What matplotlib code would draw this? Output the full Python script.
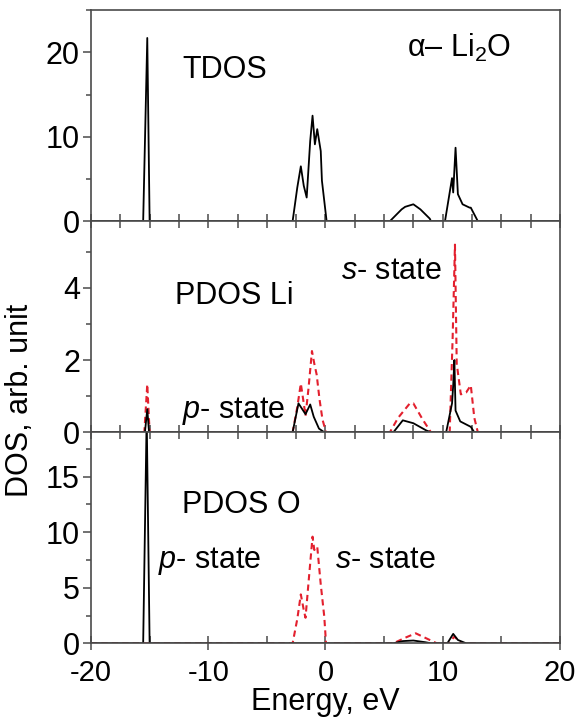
import matplotlib
matplotlib.use("Agg")
import matplotlib.pyplot as plt
from matplotlib.ticker import MultipleLocator

plt.rcParams['font.family'] = ['Liberation Sans', 'DejaVu Sans']
plt.rcParams['mathtext.fontset'] = 'custom'
plt.rcParams['mathtext.rm'] = 'Liberation Sans'
plt.rcParams['mathtext.it'] = 'Liberation Sans:italic'
plt.rcParams['axes.unicode_minus'] = False

# TDOS (black)
tdos_e = [-20, -15.55, -15.2, -15.0, -2.8, -2.4, -2.1, -1.85, -1.6, -1.3, -1.1, -0.9, -0.7, -0.4, -0.3, 0.1,
          5.5, 6.0, 6.5, 6.8, 7.5, 8.1, 8.9, 9.0, 10.2, 10.8, 10.9, 11.1, 11.3, 11.7, 12.3, 12.4, 13.0, 20]
tdos_v = [0, 0, 21.7, 0, 0, 4.0, 6.5, 4.2, 2.8, 9.5, 12.5, 9.1, 10.9, 8.3, 4.8, 0,
          0, 0.7, 1.4, 1.7, 2.0, 1.4, 0.3, 0, 0, 5.1, 3.4, 8.7, 3.2, 2.0, 1.6, 1.6, 0, 0]

# PDOS Li, solid black
li_k_e = [-20, -15.4, -15.2, -15.05, -2.8, -2.3, -1.7, -1.3, -1.0, -0.55, -0.1,
          5.8, 6.6, 7.5, 8.6, 9.0, 10.3, 10.8, 10.9, 11.0, 11.1, 11.5, 12.4, 12.7, 20]
li_k_v = [0, 0, 0.64, 0, 0, 0.8, 0.5, 0.77, 0.43, 0.1, 0,
          0, 0.33, 0.25, 0.05, 0, 0, 0.8, 1.3, 2.0, 0.6, 0.3, 0.15, 0, 0]

# PDOS Li, dashed red
li_r_e = [-20, -15.45, -15.2, -15.0, -2.8, -2.4, -2.1, -1.85, -1.7, -1.45, -1.15, -0.95, -0.75, -0.5, -0.25, 0.05,
          5.5, 6.2, 7.2, 7.5, 8.3, 9.0, 10.6, 10.85, 11.05, 11.2, 11.55, 12.0, 12.4, 12.7, 13.0, 20]
li_r_v = [0, 0, 1.33, 0, 0, 0.7, 1.35, 0.8, 0.45, 1.2, 2.25, 1.9, 1.6, 0.9, 0.35, 0,
          0, 0.4, 0.8, 0.8, 0.35, 0, 0, 2.6, 5.2, 1.9, 1.05, 1.1, 1.3, 0.4, 0, 0]

# PDOS O, solid black
o_k_e = [-20, -15.55, -15.25, -15.0, 5.8, 6.6, 7.5, 8.5, 9.0, 10.4, 10.9, 11.3, 12.0, 20]
o_k_v = [0, 0, 20.5, 0, 0, 0.2, 0.25, 0.1, 0, 0, 0.85, 0.3, 0, 0]

# PDOS O, dashed red
o_r_e = [-20, -2.8, -2.4, -2.1, -1.85, -1.7, -1.4, -1.1, -0.95, -0.7, -0.4, -0.1, 0.05,
         5.8, 6.8, 7.7, 8.7, 9.5, 10.5, 11.0, 11.6, 20]
o_r_v = [0, 0, 2.2, 4.4, 3.0, 2.3, 6.0, 9.6, 8.4, 8.7, 5.3, 2.4, 0,
         0, 0.5, 0.9, 0.4, 0, 0, 0.6, 0, 0]

red = '#e3202e'
spine_c = '#4a4a4a'
fs = 22

fig, axes = plt.subplots(3, 1, figsize=(5.76, 7.22), dpi=100, sharex=True)
fig.subplots_adjust(left=0.158, right=0.972, top=0.986, bottom=0.109, hspace=0)
ax1, ax2, ax3 = axes

ax1.plot(tdos_e, tdos_v, color='black', lw=1.3)
ax2.plot(li_r_e, li_r_v, color=red, lw=1.5, ls=(0, (3, 2)))
ax2.plot(li_k_e, li_k_v, color='black', lw=1.3)
ax3.plot(o_r_e, o_r_v, color=red, lw=1.5, ls=(0, (3, 2)))
ax3.plot(o_k_e, o_k_v, color='black', lw=1.3)

ax1.set_ylim(0, 25)
ax2.set_ylim(0, 5.85)
ax3.set_ylim(0, 19)
ax3.set_xlim(-20, 20)

ax1.yaxis.set_major_locator(MultipleLocator(10))
ax1.yaxis.set_minor_locator(MultipleLocator(5))
ax2.yaxis.set_major_locator(MultipleLocator(2))
ax2.yaxis.set_minor_locator(MultipleLocator(1))
ax3.yaxis.set_major_locator(MultipleLocator(5))
ax3.yaxis.set_minor_locator(MultipleLocator(2.5))

for ax in axes:
    for s in ax.spines.values():
        s.set_color(spine_c)
        s.set_linewidth(1.2)
    ax.tick_params(axis='y', which='major', direction='out', length=6, width=1.1,
                   color=spine_c, labelsize=fs, pad=2)
    ax.tick_params(axis='y', which='minor', direction='out', length=3.5, width=1.1, color=spine_c)

# x ticks of upper two panels: every 2.5, inward, no labels
ax3.xaxis.set_major_locator(MultipleLocator(10))
ax3.xaxis.set_minor_locator(MultipleLocator(5))
for ax in (ax1, ax2):
    sec = ax.secondary_xaxis('bottom')
    sec.xaxis.set_major_locator(MultipleLocator(2.5))
    sec.tick_params(direction='in', length=5, width=1.1, color=spine_c, labelbottom=False)
    sec.spines['bottom'].set_visible(False)
    ax.tick_params(axis='x', which='both', bottom=False, labelbottom=False)
for ax in (ax2, ax3):
    sec = ax.secondary_xaxis('top')
    sec.xaxis.set_major_locator(MultipleLocator(2.5))
    sec.tick_params(direction='in', length=5, width=1.1, color=spine_c, labeltop=False)
    sec.spines['top'].set_visible(False)

ax3.tick_params(axis='x', which='major', direction='inout', length=10, width=1.1,
                color=spine_c, labelsize=21, pad=6)
ax3.tick_params(axis='x', which='minor', direction='in', length=5, width=1.1, color=spine_c)
ax3.set_xlabel('Energy, eV', fontsize=fs, labelpad=0)

fig.text(0.035, 0.446, 'DOS, arb. unit', rotation=90, fontsize=fs, ha='center', va='center')

ax1.text(-12.2, 16.9, 'TDOS', fontsize=fs)
ax1.text(7.0, 19.4, 'α– Li$_{2}$O', fontsize=fs)
ax2.text(-12.8, 3.55, 'PDOS Li', fontsize=fs)
ax2.text(1.3, 4.25, '$s$- state', fontsize=fs)
ax2.text(-12.2, 0.39, '$p$- state', fontsize=fs)
ax3.text(-12.2, 11.7, 'PDOS O', fontsize=fs)
ax3.text(-14.3, 6.8, '$p$- state', fontsize=fs)
ax3.text(0.8, 6.8, '$s$- state', fontsize=fs)

fig.savefig('out.png', dpi=100)
